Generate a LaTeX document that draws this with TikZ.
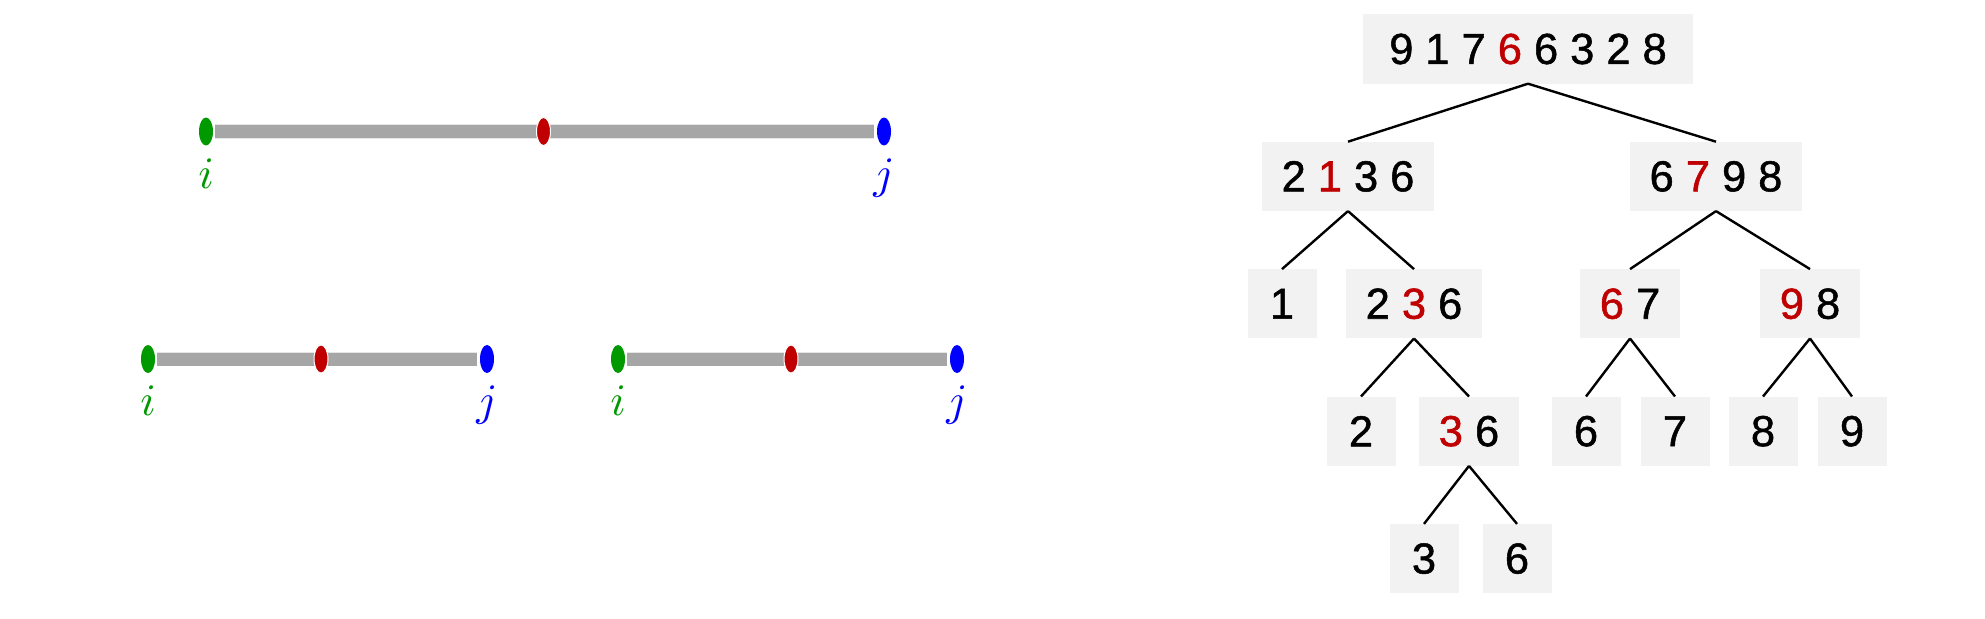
\documentclass[tikz,border=0pt]{standalone}
\usepackage{amsmath}
\usepackage{fontspec}
\usepackage{tikz}
\usetikzlibrary{positioning,shapes.geometric}

\newfontfamily\cellfont[FakeBold=1.2]{Liberation Sans}
\definecolor{igreen}{RGB}{0,153,0}
\definecolor{jblue}{RGB}{0,0,255}
\definecolor{pivred}{RGB}{192,0,0}
\newcommand{\pv}[1]{\textcolor{pivred}{#1}}

\tikzset{
  cell/.style={fill=black!5, minimum width=69pt, minimum height=69pt,
    inner xsep=20pt, inner ysep=0pt, font=\cellfont\fontsize{43.4}{50}\selectfont},
  edge/.style={line width=2.4pt},
  bar/.style={draw=black!10, line width=0.8pt, double=black!35,
    double distance=13pt, shorten <=2pt, shorten >=3pt},
  endpt/.style={ellipse, minimum width=14pt, minimum height=28pt, inner sep=0pt},
  pivpt/.style={endpt, fill=pivred, draw=white, line width=1pt},
  lbl/.style={inner sep=0pt, scale=4.5},
}

\begin{document}
\begin{tikzpicture}[x=1pt, y=1pt, node distance=58pt]
  \useasboundingbox (0,0) rectangle (1985,-618);

  % the range and its two halves
  \node[endpt, fill=igreen] (i0) at (206,-131.5) {};
  \node[endpt, fill=jblue]  (j0) at (884,-131.5) {};
  \node[endpt, fill=igreen] (i1) at (148,-359) {};
  \node[endpt, fill=jblue]  (j1) at (487,-359) {};
  \node[endpt, fill=igreen] (i2) at (618,-359) {};
  \node[endpt, fill=jblue]  (j2) at (957,-359) {};

  \draw[bar] (i0) -- (j0);
  \draw[bar] (i1) -- (j1);
  \draw[bar] (i2) -- (j2);

  \node[pivpt] (m0) at (543.5,-131.5) {};
  \node[pivpt] (m1) at (321,-359) {};
  \node[pivpt] (m2) at (791,-359) {};

  \node[lbl, text=igreen, below=12pt of i0] (li0) {$i$};
  \node[lbl, text=jblue,  below=12pt of j0] (lj0) {$j$};
  \node[lbl, text=igreen, below=12pt of i1] (li1) {$i$};
  \node[lbl, text=jblue,  below=12pt of j1] (lj1) {$j$};
  \node[lbl, text=igreen, below=12pt of i2] (li2) {$i$};
  \node[lbl, text=jblue,  below=12pt of j2] (lj2) {$j$};

  % the quicksort tree
  \node[cell, inner xsep=26pt] (root) at (1528,-49) {9 1 7 \pv{6} 6 3 2 8};
  \node[cell, below=of root, xshift=-180pt] (s-2136) {2 \pv{1} 3 6};
  \node[cell, below=of root, xshift=188pt]  (s-6798) {6 \pv{7} 9 8};
  \node[cell, below=of s-2136, xshift=-66pt] (s-1)   {1};
  \node[cell, below=of s-2136, xshift=66pt]  (s-236) {2 \pv{3} 6};
  \node[cell, below=of s-6798, xshift=-86pt] (s-67)  {\pv{6} 7};
  \node[cell, below=of s-6798, xshift=94pt]  (s-98)  {\pv{9} 8};
  \node[cell, below=of s-236, xshift=-53pt] (s-2)  {2};
  \node[cell, below=of s-236, xshift=55pt]  (s-36) {\pv{3} 6};
  \node[cell, below=of s-67, xshift=-44pt] (s-6) {6};
  \node[cell, below=of s-67, xshift=45pt]  (s-7) {7};
  \node[cell, below=of s-98, xshift=-47pt] (s-8) {8};
  \node[cell, below=of s-98, xshift=42pt]  (s-9) {9};
  \node[cell, below=of s-36, xshift=-45pt] (s-3b) {3};
  \node[cell, below=of s-36, xshift=48pt]  (s-6b) {6};

  % Connect the nodes
  \foreach \p/\c in {root/s-2136, root/s-6798, s-2136/s-1, s-2136/s-236,
      s-6798/s-67, s-6798/s-98, s-236/s-2, s-236/s-36, s-67/s-6, s-67/s-7,
      s-98/s-8, s-98/s-9, s-36/s-3b, s-36/s-6b}
    \draw[edge] (\p.south) -- (\c.north);
\end{tikzpicture}
\end{document}
